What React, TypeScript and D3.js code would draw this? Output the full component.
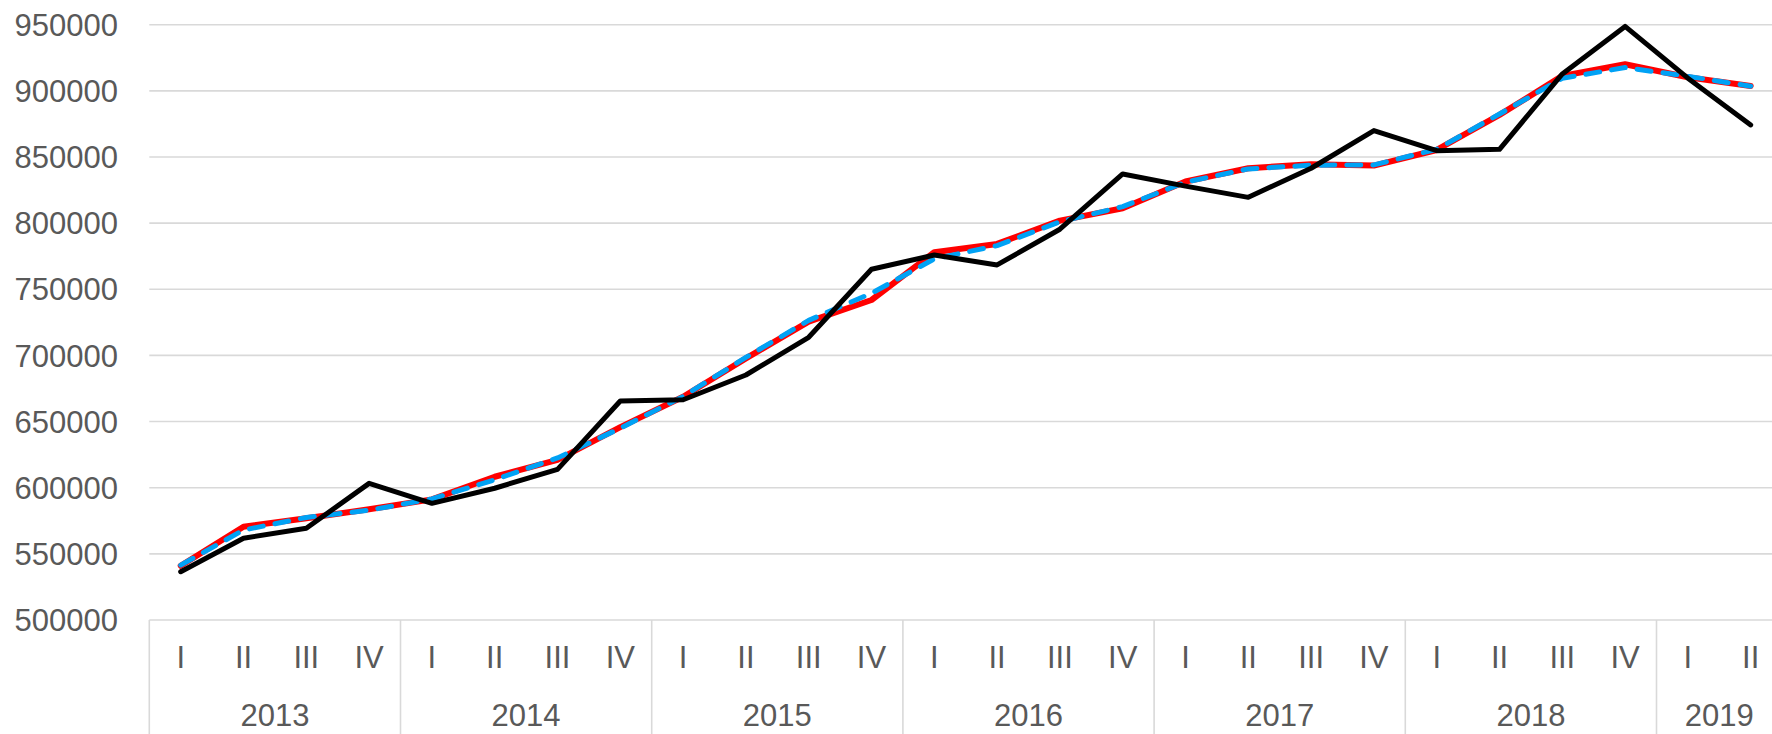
import React from "react";
import * as d3 from "d3";

const years = ["2013", "2014", "2015", "2016", "2017", "2018", "2019"];
const quartersPerYear = [4, 4, 4, 4, 4, 4, 2];
const quarterNames = ["I", "II", "III", "IV"];

const trendValues = [541000, 570500, 576900, 583700, 591200, 608300, 621000, 645800, 668800, 697800, 725500, 741900, 778000, 784300, 801900, 811200, 831500, 841500, 844500, 843500, 855300, 881800, 911300, 920100, 910300, 903700];
const adjustedValues = [541500, 568000, 577500, 583000, 591500, 606000, 622500, 645000, 669000, 698500, 726500, 747000, 773000, 783000, 801000, 812500, 831000, 841000, 843800, 844000, 855800, 882500, 909500, 917600, 911000, 903500];
const rawValues = [536500, 561800, 569300, 603300, 588200, 599600, 613900, 665500, 666500, 685200, 713700, 765100, 775900, 768400, 795400, 837200, 828000, 819500, 841500, 870000, 854800, 855800, 912800, 948700, 909600, 874200];

const yTicks = [500000, 550000, 600000, 650000, 700000, 750000, 800000, 850000, 900000, 950000];

const W = 1772;
const H = 734;
const FONT = "'Liberation Sans', Arial, sans-serif";
const TEXT = "#595959";
const GRID = "#d9d9d9";

export default function App() {
  const categories: { year: string; q: string }[] = [];
  years.forEach((y, yi) => {
    for (let k = 0; k < quartersPerYear[yi]; k++) categories.push({ year: y, q: quarterNames[k] });
  });
  const n = categories.length;
  const left = 149.3;
  const step = 62.8;
  const x = d3
    .scaleBand<number>()
    .domain(d3.range(n))
    .range([left, left + n * step])
    .padding(0);
  const cx = (i: number) => (x(i) as number) + x.bandwidth() / 2;
  const y = d3.scaleLinear().domain([500000, 950000]).range([620, 24.7]);

  const line = d3
    .line<number>()
    .x((_, i) => cx(i))
    .y((v) => y(v));

  const bounds: number[] = [];
  let acc = 0;
  bounds.push(x(0) as number);
  quartersPerYear.forEach((c) => {
    acc += c;
    bounds.push(acc < n ? (x(acc) as number) : left + n * step);
  });

  return (
    <div style={{ position: "absolute", left: 0, top: 0 }}>
      <svg width={W} height={H} style={{ display: "block", background: "#fff" }}>
        {yTicks.map((t) => (
          <g key={t}>
            <line x1={left} x2={W} y1={y(t)} y2={y(t)} stroke={GRID} strokeWidth={1.6} />
            <text
              x={118}
              y={y(t) + 11.2}
              textAnchor="end"
              fontFamily={FONT}
              fontSize={31}
              fill={TEXT}
            >
              {t}
            </text>
          </g>
        ))}
        {bounds.map((b, i) => (
          <line key={i} x1={b} x2={b} y1={620} y2={H} stroke={GRID} strokeWidth={1.6} />
        ))}
        {categories.map((c, i) => (
          <text
            key={i}
            x={cx(i)}
            y={668}
            textAnchor="middle"
            fontFamily={FONT}
            fontSize={31}
            fill={TEXT}
          >
            {c.q}
          </text>
        ))}
        {years.map((yr, i) => (
          <text
            key={yr}
            x={(bounds[i] + bounds[i + 1]) / 2}
            y={726}
            textAnchor="middle"
            fontFamily={FONT}
            fontSize={31}
            fill={TEXT}
          >
            {yr}
          </text>
        ))}
        <path
          d={line(trendValues) || ""}
          fill="none"
          stroke="#ff0000"
          strokeWidth={6}
          strokeLinejoin="round"
          strokeLinecap="round"
        />
        <path
          d={line(adjustedValues) || ""}
          fill="none"
          stroke="#00a2f5"
          strokeWidth={5}
          strokeDasharray="14 12"
          strokeLinejoin="round"
          strokeLinecap="round"
        />
        <path
          d={line(rawValues) || ""}
          fill="none"
          stroke="#000000"
          strokeWidth={5}
          strokeLinejoin="round"
          strokeLinecap="round"
        />
      </svg>
    </div>
  );
}
